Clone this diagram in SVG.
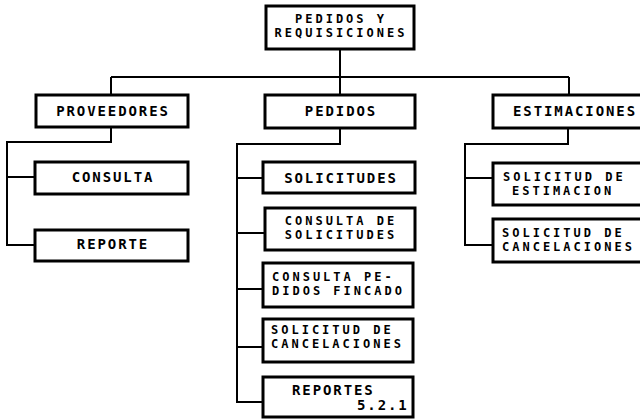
<svg xmlns="http://www.w3.org/2000/svg" width="640" height="419" viewBox="0 0 640 419">
<style>
rect.b{fill:#fff;stroke:#000;stroke-width:3}
.c path{fill:none;stroke:#000;stroke-width:2}
text{font-family:"DejaVu Sans Mono","Liberation Mono",monospace;font-weight:bold;font-size:14px;letter-spacing:1.9px;fill:#000}
text.t{font-size:12px;letter-spacing:3px}
.m{text-anchor:middle}
</style>
<rect width="640" height="419" fill="#fff"/>
<g class="c">
<path d="M340,49V95M111,77H569M111,77V95M569,77V95"/>
<path d="M111,127V142H7V245H35M7,177H35"/>
<path d="M340,128V144H237V402H265M237,178H263M237,233H265M237,289H263M237,347H263"/>
<path d="M568,128V144H465V245H493M465,178H493"/>
</g>
<g id="root"><rect class="b" x="266" y="6" width="148" height="43"/><text class="m t" x="341" y="23">PEDIDOS Y</text><text class="m t" x="341" y="37">REQUISICIONES</text></g>
<g id="proveedores"><rect class="b" x="36" y="95" width="152" height="32"/><text class="m" x="113" y="116">PROVEEDORES</text></g>
<g id="pedidos"><rect class="b" x="265" y="95" width="150" height="33"/><text class="m" x="341" y="116">PEDIDOS</text></g>
<g id="estimaciones"><rect class="b" x="493" y="95" width="152" height="33"/><text class="m" x="575" y="116">ESTIMACIONES</text></g>
<g id="consulta"><rect class="b" x="35" y="162" width="153" height="32"/><text class="m" x="113" y="182">CONSULTA</text></g>
<g id="reporte"><rect class="b" x="35" y="230" width="153" height="31"/><text class="m" x="113" y="249">REPORTE</text></g>
<g id="solicitudes"><rect class="b" x="263" y="162" width="152" height="31"/><text class="m" x="341" y="183">SOLICITUDES</text></g>
<g id="consulta-solicitudes"><rect class="b" x="265" y="208" width="150" height="42"/><text class="m t" x="341" y="225">CONSULTA DE</text><text class="m t" x="341" y="239">SOLICITUDES</text></g>
<g id="consulta-pedidos"><rect class="b" x="263" y="263" width="150" height="44"/><text class="t" x="272" y="281">CONSULTA PE-</text><text class="t" x="272" y="295">DIDOS FINCADO</text></g>
<g id="solicitud-cancelaciones"><rect class="b" x="263" y="319" width="150" height="43"/><text class="t" x="271" y="334">SOLICITUD DE</text><text class="t" x="271" y="348">CANCELACIONES</text></g>
<g id="reportes"><rect class="b" x="263" y="377" width="150" height="40"/><text x="292" y="395">REPORTES</text><text x="357" y="410">5.2.1</text></g>
<g id="solicitud-estimacion"><rect class="b" x="493" y="163" width="152" height="42"/><text class="t" x="503" y="181">SOLICITUD DE</text><text class="t" x="512" y="195">ESTIMACION</text></g>
<g id="solicitud-cancelaciones-est"><rect class="b" x="493" y="219" width="152" height="43"/><text class="t" x="502" y="237">SOLICITUD DE</text><text class="t" x="502" y="251">CANCELACIONES</text></g>
</svg>
